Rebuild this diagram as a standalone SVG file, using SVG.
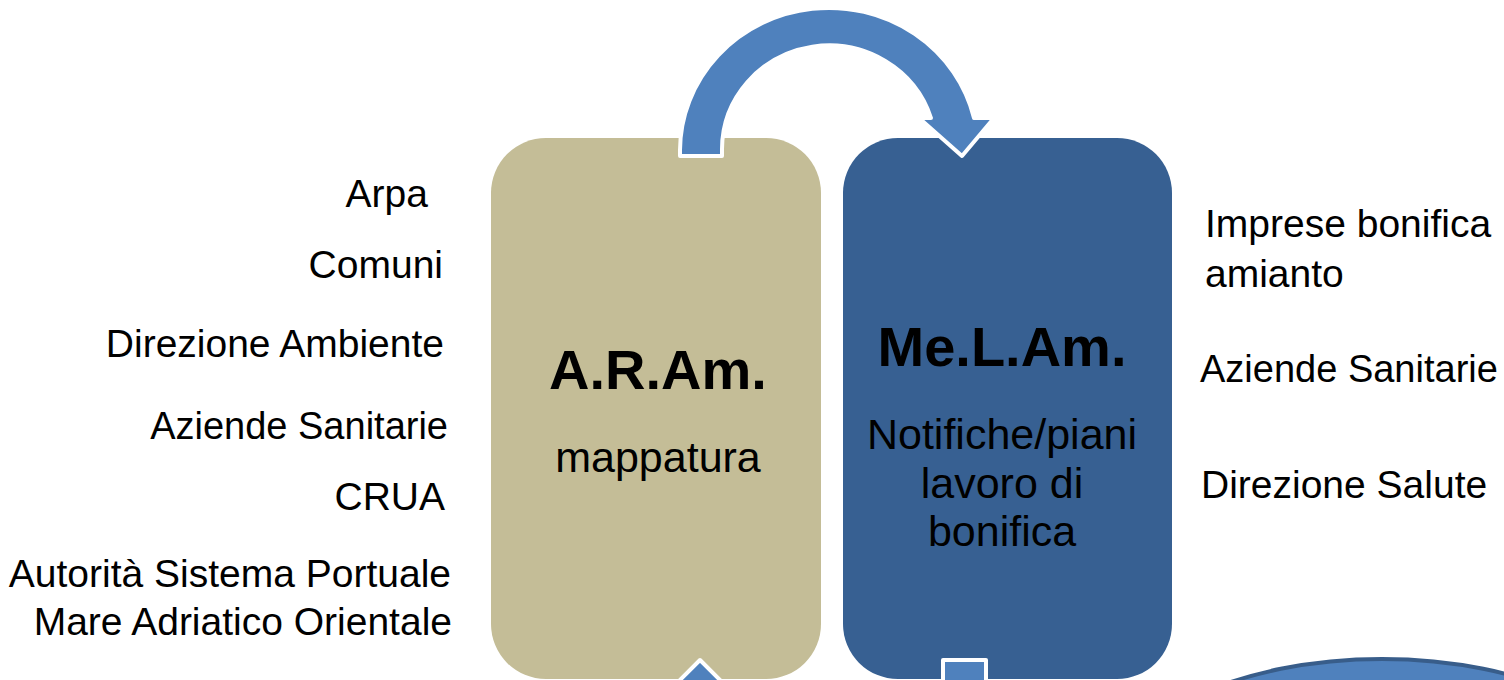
<svg xmlns="http://www.w3.org/2000/svg" width="1504" height="680" viewBox="0 0 1504 680">
<style>
.lbl{font-family:"Liberation Sans",Arial,sans-serif;font-size:39px;fill:#000}
.sm{font-size:38px}
.ttl{font-family:"Liberation Sans",Arial,sans-serif;font-size:56px;font-weight:bold;fill:#000;text-anchor:middle}
.sub{font-family:"Liberation Sans",Arial,sans-serif;font-size:43px;fill:#000;text-anchor:middle}
.arr{fill:#4F81BD;stroke:#FFFFFF;stroke-width:4;stroke-linejoin:round}
</style>
<rect width="1504" height="680" fill="#FFFFFF"/>
<g id="node-aram">
<rect x="491" y="138" width="330" height="541" rx="55" ry="55" fill="#C4BD97"/>
<text class="ttl" x="658" y="389">A.R.Am.</text>
<text class="sub" x="658" y="472">mappatura</text>
</g>
<g id="node-melam">
<rect x="843" y="138" width="329" height="541" rx="55" ry="55" fill="#376092"/>
<text class="ttl" x="1002" y="366">Me.L.Am.</text>
<text class="sub" x="1002" y="449">Notifiche/piani</text>
<text class="sub" x="1002" y="498">lavoro di</text>
<text class="sub" x="1002" y="546">bonifica</text>
</g>
<g id="node-ellipse">
<ellipse cx="1382" cy="799" rx="275" ry="140" fill="#4F81BD" stroke="#385D8A" stroke-width="4"/>
</g>
<g id="connectors">
<path class="arr" d="M680,156 L680,150 A149,143 0 0 1 974,118 L994,118 L962,156 L919,118 L931,118 A107,104 0 0 0 722,150 L722,156 Z"/>
<path class="arr" d="M700,660 L742,702 L658,702 Z"/>
<path class="arr" d="M943,660 L986,660 L986,700 L943,700 Z"/>
</g>
<g id="labels-left" text-anchor="end">
<text class="lbl" x="428" y="207">Arpa</text>
<text class="lbl" x="443" y="278">Comuni</text>
<text class="lbl" x="444" y="357">Direzione Ambiente</text>
<text class="lbl sm" x="448" y="439">Aziende Sanitarie</text>
<text class="lbl" x="445" y="510">CRUA</text>
<text class="lbl" x="451" y="587">Autorità Sistema Portuale</text>
<text class="lbl" x="452" y="635">Mare Adriatico Orientale</text>
</g>
<g id="labels-right">
<text class="lbl" x="1205" y="237">Imprese bonifica</text>
<text class="lbl" x="1205" y="287">amianto</text>
<text class="lbl sm" x="1200" y="382">Aziende Sanitarie</text>
<text class="lbl" x="1201" y="498">Direzione Salute</text>
</g>
</svg>
